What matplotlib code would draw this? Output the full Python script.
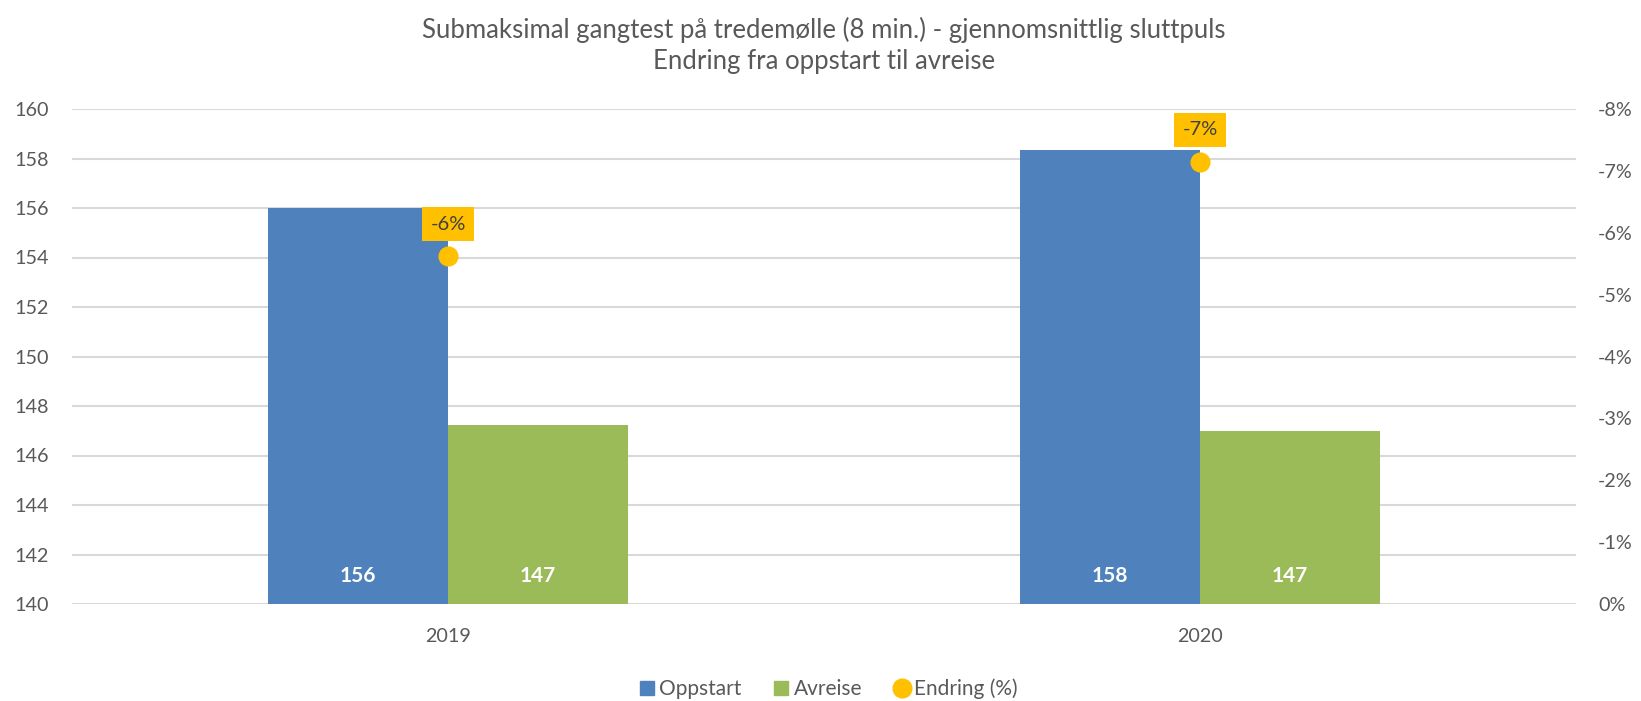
import matplotlib.pyplot as plt
from matplotlib.lines import Line2D
from matplotlib.ticker import FuncFormatter
import numpy as np

plt.rcParams["font.family"] = ["Lato", "DejaVu Sans"]

YEARS = ["2019", "2020"]
OPPSTART = [156.0, 158.33]
AVREISE = [147.25, 147.0]
ENDRING = [-0.0562, -0.0715]

TITLE = "Submaksimal gangtest på tredemølle (8 min.) - gjennomsnittlig sluttpuls\nEndring fra oppstart til avreise"

BLUE = "#4F81BD"
GREEN = "#9BBB59"
GOLD = "#FFC000"
GREY_TEXT = "#595959"
GRID = "#D9D9D9"

fig = plt.figure(figsize=(16.41, 7.01), dpi=100)
ax = fig.add_axes([72 / 1641, 97 / 701, 1504 / 1641, 495 / 701])
ax2 = ax.twinx()

x = np.arange(len(YEARS))
width = 0.239

ax.bar(x - width / 2, np.array(OPPSTART) - 140, width, bottom=140, color=BLUE, zorder=2)
ax.bar(x + width / 2, np.array(AVREISE) - 140, width, bottom=140, color=GREEN, zorder=2)

for xi, v in zip(x - width / 2, OPPSTART):
    ax.text(xi, 141.15, f"{v:.0f}", ha="center", va="center", color="white",
            fontsize=15, fontweight="bold", zorder=3)
for xi, v in zip(x + width / 2, AVREISE):
    ax.text(xi, 141.15, f"{v:.0f}", ha="center", va="center", color="white",
            fontsize=15, fontweight="bold", zorder=3)

ax.set_xlim(-0.5, len(YEARS) - 0.5)
ax.set_ylim(140, 160)
ax.set_yticks(np.arange(140, 161, 2))
ax.set_xticks(x)
ax.set_xticklabels(YEARS)
ax.grid(axis="y", color=GRID, linewidth=1.5, zorder=0)
ax.set_axisbelow(True)
ax.tick_params(axis="both", length=0, colors=GREY_TEXT, labelsize=14.2)
ax.tick_params(axis="x", pad=17)
ax.tick_params(axis="y", pad=16.5)

# secondary axis: percent change, 0% at bottom and -8% at top
ax2.plot(x, ENDRING, linestyle="none", marker="o", markersize=13.5,
         color=GOLD, zorder=4)
ax2.set_ylim(0, -0.08)
ax2.set_yticks(np.arange(0, -0.081, -0.01))
ax2.yaxis.set_major_formatter(FuncFormatter(lambda v, _: f"{v * 100:.0f}%".replace("-0%", "0%")))
ax2.tick_params(axis="y", length=0, colors=GREY_TEXT, labelsize=14.2, pad=16)

for xi, v in zip(x, ENDRING):
    ax2.annotate(f"{v * 100:.0f}%", (xi, v), xytext=(0, 23), textcoords="offset points",
                 ha="center", va="center", fontsize=14.5, color="#404040", zorder=5,
                 bbox=dict(boxstyle="square,pad=0.42", facecolor=GOLD, edgecolor="none"))

for a in (ax, ax2):
    for spine in a.spines.values():
        spine.set_visible(False)

fig.suptitle(TITLE, x=824 / 1641, y=0.976, fontsize=18.5, color=GREY_TEXT,
             linespacing=1.3)

handles = [
    Line2D([], [], linestyle="none", marker="s", markersize=10, color=BLUE),
    Line2D([], [], linestyle="none", marker="s", markersize=10, color=GREEN),
    Line2D([], [], linestyle="none", marker="o", markersize=13.5, color=GOLD),
]
fig.legend(handles, ["Oppstart", "Avreise", "Endring (%)"], loc="center",
           bbox_to_anchor=(828 / 1641, 1 - 689 / 701), ncol=3, frameon=False,
           fontsize=15, handlelength=0.8, handletextpad=0.2,
           columnspacing=1.5, labelcolor=GREY_TEXT)

fig.savefig("out.png", dpi=100)
